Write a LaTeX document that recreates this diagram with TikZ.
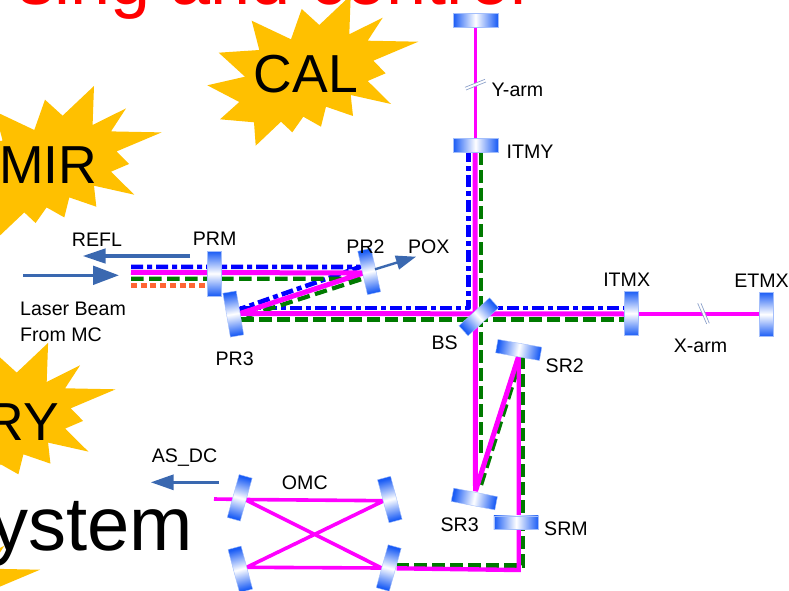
\documentclass[tikz,border=0pt]{standalone}
\usepackage{fontspec}
\setmainfont{Liberation Sans}
\usetikzlibrary{arrows.meta}
\definecolor{burstgold}{HTML}{FFC000}
\definecolor{arrowblue}{HTML}{3A68B0}
\definecolor{mirrorblue}{HTML}{1A5CF5}
\definecolor{mainpink}{HTML}{FF00FF}
\definecolor{darkgreen}{HTML}{007A00}
\definecolor{dotorange}{HTML}{FF6633}
\definecolor{breakgrey}{HTML}{8FA3CC}
\newcommand{\burst}[1]{\fill[burstgold,shift={#1}] (251.7,20.7) -- (291,39.3) -- (301.7,9) -- (319.3,25) -- (350.7,-4.7) -- (349.3,34.3) -- (382.7,17.7) -- (367.7,40.7) -- (418.3,41.7) -- (373.3,60.7) -- (385.7,73.3) -- (367.7,81) -- (391,104) -- (350.7,95) -- (353,116) -- (326,106.7) -- (321,126.7) -- (303.3,116.7) -- (292.3,132.3) -- (281,121.7) -- (255.7,145.7) -- (254,122.3) -- (220,119.3) -- (239.3,102) -- (207.3,85.3) -- (245,76.7) -- (218.7,52.7) -- (259.3,50) -- cycle;}
\tikzset{
  mirror/.style 2 args={rectangle,inner sep=0pt,minimum width=44.5pt,minimum height=13.5pt,rotate=#1,
    left color=mirrorblue,right color=mirrorblue,middle color=white,shading angle=#2,draw=mirrorblue!40,line width=0.4pt},
  lbl/.style={inner sep=0pt,font=\fontsize{19.6}{19.6}\selectfont},
  biglbl/.style={inner sep=0pt,font=\fontsize{53.5}{53.5}\selectfont},
  pinkbeam/.style={draw=mainpink,line width=5pt},
  thinbeam/.style={draw=mainpink,line width=3.6pt},
  greenbeam/.style={draw=darkgreen,line width=4.2pt,dash pattern=on 12.5pt off 5.5pt},
  bluebeam/.style={draw=blue,line width=4.6pt,line join=round,dash pattern=on 12pt off 4pt on 5pt off 4pt},
  orangebeam/.style={draw=dotorange,line width=4.6pt,dash pattern=on 6pt off 3.7pt},
  tapped/.style={draw=arrowblue,line width=#1},
  breakmark/.style={draw=breakgrey,line width=0.7pt}
}
\begin{document}
\begin{tikzpicture}[x=1pt,y=-1pt]
   \useasboundingbox (0,0) rectangle (789,591);
   \clip (0,0) rectangle (789,591);
   % bursts
   \burst{(0,0)}
   \burst{(-256.7,90.7)}
   \burst{(-302.6,347.6)}
   \burst{(-378.3,528)}
   % slide text
   \node[font=\fontsize{72}{72}\selectfont,text=red,inner sep=0pt,anchor=base east] (title) at (527,5) {sing and control};
   \node[biglbl,anchor=base] (cal) at (306,93) {CAL};
   \node[biglbl,anchor=base west] (mir) at (-1,183) {MIR};
   \node[biglbl,anchor=base east] (ry) at (59,440.7) {RY};
   \node[font=\fontsize{76}{76}\selectfont,inner sep=0pt,anchor=base east] (sys) at (193,550) {ystem};
   % beam points
   \coordinate (inb) at (131,266.8);
   \coordinate (inp) at (131,272.3);
   \coordinate (ing) at (131,278.7);
   \coordinate (ino) at (131,285.3);
   \coordinate (ine) at (205,285.3);
   \coordinate (ptb) at (360,267);
   \coordinate (ptp) at (363.3,273);
   \coordinate (ptg) at (363,278.7);
   \coordinate (thb) at (239.3,309.3);
   \coordinate (thp) at (240,313.5);
   \coordinate (thg) at (241,318);
   \coordinate (lowb) at (240,308);
   \coordinate (cornb) at (468.5,308);
   \coordinate (topb) at (468.5,152);
   \coordinate (topg) at (481,152);
   \coordinate (topp) at (475,152);
   \coordinate (army) at (475.5,27);
   \coordinate (armyb) at (475.5,138);
   \coordinate (endg) at (481,453);
   \coordinate (lowg) at (241,319.5);
   \coordinate (itxb) at (625,308);
   \coordinate (bsb) at (482,308);
   \coordinate (itxg) at (625,319.5);
   \coordinate (itxp) at (625,314);
   \coordinate (armx) at (759.5,314);
   \coordinate (srthr) at (475.5,491);
   \coordinate (srtwo) at (518.7,356);
   \coordinate (grthr) at (480,488.3);
   \coordinate (grtwo) at (517.3,370);
   \coordinate (grsr) at (523,356);
   \coordinate (grcorn) at (523,565.5);
   \coordinate (grom) at (397,565.5);
   \coordinate (pkcorn) at (519,570);
   \coordinate (omout) at (396.7,568.3);
   \coordinate (omin) at (214,499);
   \coordinate (oma) at (245,499.5);
   \coordinate (omb) at (384,500.7);
   \coordinate (omc) at (246.7,567.3);
   \coordinate (omd) at (381.7,568);
   % beams
   \draw[bluebeam] (inb) -- (ptb) -- (thb);
   \draw[bluebeam] (lowb) -- (cornb) -- (topb);
   \draw[bluebeam] (bsb) -- (itxb);
   \draw[greenbeam] (ing) -- (ptg) -- (thg);
   \draw[greenbeam] (lowg) -- (itxg);
   \draw[greenbeam] (topg) -- (endg);
   \draw[greenbeam] (grtwo) -- (grthr);
   \draw[greenbeam] (grsr) -- (grcorn) -- (grom);
   \draw[orangebeam] (ino) -- (ine);
   \draw[pinkbeam,line join=bevel] (inp) -- (ptp) -- (thp) -- (itxp);
   \draw[thinbeam] (army) -- (armyb);
   \draw[thinbeam] (itxp) -- (armx);
   \draw[pinkbeam,line join=bevel] (topp) -- (srthr) -- (srtwo);
   \draw[draw=mainpink,line width=4.4pt] (srtwo) -- (srtwo |- pkcorn) -- (omout);
   \draw[thinbeam,line join=bevel] (omin) -- (oma) -- (omb) -- (omc) -- (omd) -- (oma);
   % arm breaks
   \fill[white] (465.5,87.3) -- (485.5,79.3) -- (486.5,82) -- (466.5,90) -- cycle;
   \draw[breakmark] (465,87.3) -- (485,79.3);
   \draw[breakmark] (466,90) -- (486,82);
   \fill[white] (698.5,303.3) -- (701,303.3) -- (709.3,323.3) -- (706.7,324) -- cycle;
   \draw[breakmark] (697.7,303.3) -- (706.7,324);
   \draw[breakmark] (701,303.3) -- (709.3,323.3);
   % mirrors on top of the beams
   \node[mirror={0}{90}] (etmy) at (475.5,20) {};
   \node[mirror={0}{90}] (itmy) at (475.5,145) {};
   \node[mirror={90}{180}] (prm) at (214,273.5) {};
   \node[mirror={99.7}{189.7}] (prthree) at (233.3,314) {};
   \node[mirror={102.6}{192.6}] (prtwo) at (369.2,271.5) {};
   \node[mirror={42.4}{132.4},minimum width=41.5pt] (bs) at (478.8,316.8) {};
   \node[mirror={90}{180}] (itmx) at (631,313.3) {};
   \node[mirror={90}{180}] (etmx) at (766,314.3) {};
   \node[mirror={-10}{80}] (srtwom) at (518.7,350) {};
   \node[mirror={-11}{79}] (srthreem) at (474.3,499) {};
   \node[mirror={0}{90}] (srm) at (516.2,522.5) {};
   \node[mirror={74.5}{164.5}] (omam) at (239.7,497.8) {};
   \node[mirror={105}{195}] (ombm) at (389.8,499.5) {};
   \node[mirror={105}{195}] (omcm) at (240.3,569.3) {};
   \node[mirror={74.5}{164.5}] (omdm) at (388.7,568) {};
   % pick-off arrows
   \coordinate (lasera) at (23,275.3);
   \coordinate (laserb) at (119,275.3);
   \coordinate (refla) at (190,256);
   \coordinate (reflb) at (82.7,256);
   \coordinate (poxa) at (375,269.3);
   \coordinate (poxb) at (416,256.7);
   \coordinate (asa) at (219,482.3);
   \coordinate (asb) at (150.7,482.3);
   \draw[tapped=3.6pt,-{Triangle[length=26pt,width=18.5pt]}] (lasera) -- (laserb);
   \draw[tapped=3.2pt,-{Triangle[length=23pt,width=14.5pt]}] (refla) -- (reflb);
   \draw[tapped=2.4pt,-{Triangle[length=20pt,width=14pt]}] (poxa) -- (poxb);
   \draw[tapped=3.2pt,-{Triangle[length=23pt,width=15pt]}] (asa) -- (asb);
   % labels
   \node[lbl,anchor=base] (refl) at (97,246.7) {REFL};
   \node[lbl,anchor=base] (prml) at (214.7,245) {PRM};
   \node[lbl,anchor=base] (prtwol) at (365.5,253.3) {PR2};
   \node[lbl,anchor=base] (pox) at (428.7,253.3) {POX};
   \node[lbl,anchor=base] (bsl) at (444.7,349.3) {BS};
   \node[lbl,anchor=base] (prthreel) at (234.7,365) {PR3};
   \node[lbl,anchor=base west] (lasone) at (20,315) {Laser Beam};
   \node[lbl,anchor=base west] (lastwo) at (20,341.7) {From MC};
   \node[lbl,anchor=base west] (itmyl) at (506.5,158) {ITMY};
   \node[lbl,anchor=base west] (yarm) at (491.5,96.7) {Y-arm};
   \node[lbl,anchor=base] (itmxl) at (626.7,286) {ITMX};
   \node[lbl,anchor=base] (etmxl) at (761.5,287) {ETMX};
   \node[lbl,anchor=base] (xarm) at (700.5,352.3) {X-arm};
   \node[lbl,anchor=base west] (srtwol) at (545.5,372.7) {SR2};
   \node[lbl,anchor=base] (srthreel) at (459.7,531) {SR3};
   \node[lbl,anchor=base west] (srml) at (544,535) {SRM};
   \node[lbl,anchor=base] (omcl) at (304.8,489.3) {OMC};
   \node[lbl,anchor=base west] (asdc) at (151.7,462.7) {AS\_DC};
\end{tikzpicture}
\end{document}
